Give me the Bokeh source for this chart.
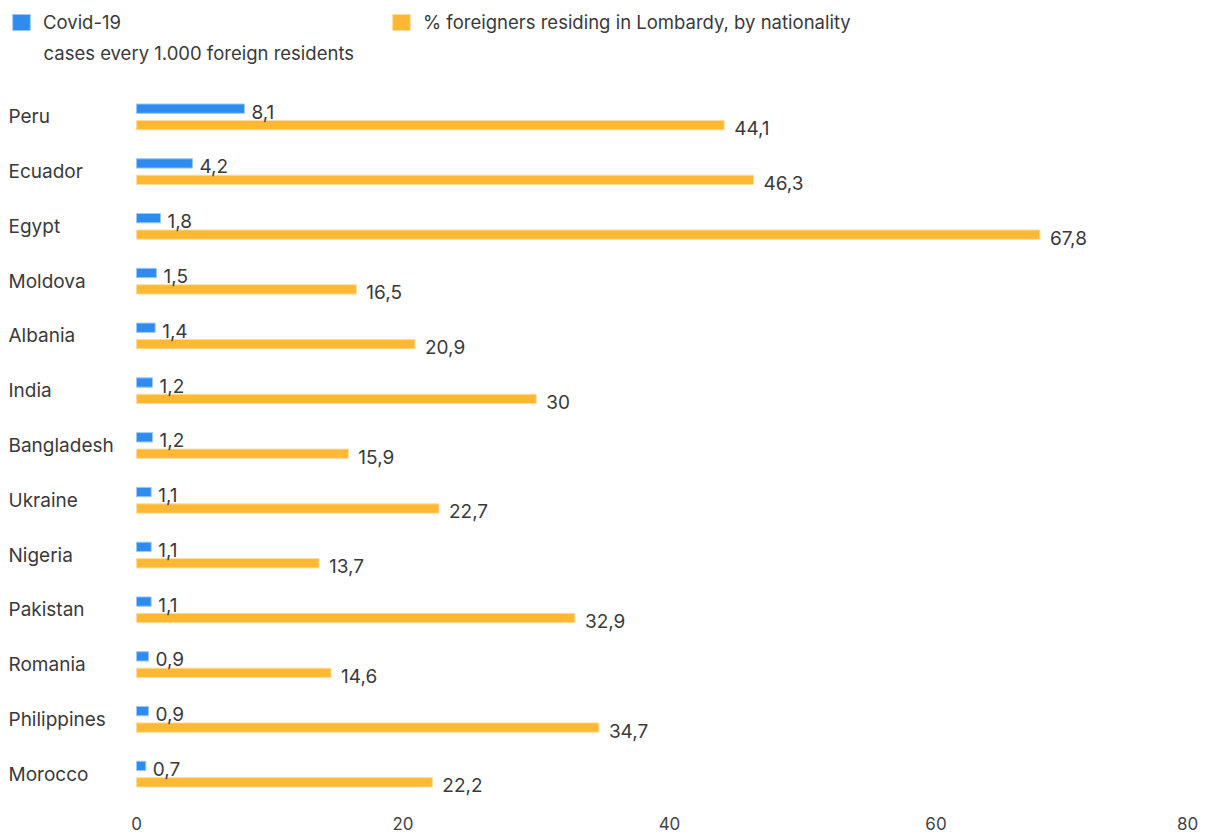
from bokeh.plotting import figure
from bokeh.layouts import column
from bokeh.models import (ColumnDataSource, FactorRange, Range1d, FixedTicker,
                          Legend, LegendItem, Label)
from bokeh.transform import dodge
from bokeh.core.properties import value
from bokeh.embed import file_html
from bokeh.resources import INLINE

countries = ["Peru", "Ecuador", "Egypt", "Moldova", "Albania", "India", "Bangladesh",
             "Ukraine", "Nigeria", "Pakistan", "Romania", "Philippines", "Morocco"]
covid = [8.1, 4.2, 1.8, 1.5, 1.4, 1.2, 1.2, 1.1, 1.1, 1.1, 0.9, 0.9, 0.7]
share = [44.1, 46.3, 67.8, 16.5, 20.9, 30, 15.9, 22.7, 13.7, 32.9, 14.6, 34.7, 22.2]
x_ticks = [0, 20, 40, 60, 80]

covid_name = "Covid-19"
covid_sub = "cases every 1.000 foreign residents"
share_name = "% foreigners residing in Lombardy, by nationality"

BLUE = "#2f8bef"
BLUE_EDGE = "#9cc8f7"
ORANGE = "#ffb833"
ORANGE_EDGE = "#ffdc9a"
TEXT = "#3a3a3a"
FONT = "Inter"

W = 1212
LEG_H = 89
H = 836 - LEG_H
PLOT_LEFT = 136      # pixel where value 0 sits
PLOT_RIGHT = 1202    # pixel where value 80 sits
X_MAX = 80
x_start = -PLOT_LEFT * X_MAX / (PLOT_RIGHT - PLOT_LEFT)


def fmt(v):
    return f"{v:g}".replace(".", ",")


src = ColumnDataSource(dict(
    country=countries,
    covid=covid,
    share=share,
    covid_lbl=[fmt(v) for v in covid],
    share_lbl=[fmt(v) for v in share],
    left_edge=[x_start] * len(countries),
))

y_range = FactorRange(*reversed(countries), range_padding=0)
x_range = Range1d(x_start, X_MAX)

p = figure(width=W, height=H, output_backend="svg", toolbar_location=None,
           y_range=y_range, x_range=x_range,
           min_border_left=0, min_border_right=W - PLOT_RIGHT,
           min_border_top=0, min_border_bottom=35)
p.outline_line_color = None
p.grid.visible = False
p.border_fill_color = "white"

off = 0.15
bar_h = 0.17
p.hbar(y=dodge("country", off, range=y_range), left=0, right="covid",
       height=bar_h, source=src, fill_color=BLUE, line_color=BLUE_EDGE, line_width=1)
p.hbar(y=dodge("country", -off, range=y_range), left=0, right="share",
       height=bar_h, source=src, fill_color=ORANGE, line_color=ORANGE_EDGE, line_width=1)

p.text(x="covid", y=dodge("country", off, range=y_range), text="covid_lbl",
       source=src, x_offset=7, y_offset=3, text_baseline="middle",
       text_font=value(FONT), text_font_size="19px", text_color=TEXT)
p.text(x="share", y=dodge("country", -off, range=y_range), text="share_lbl",
       source=src, x_offset=10, y_offset=3, text_baseline="middle",
       text_font=value(FONT), text_font_size="19px", text_color=TEXT)

# category labels, left aligned near the page edge
p.text(x="left_edge", y="country", text="country", source=src, x_offset=8,
       text_baseline="middle", text_align="left",
       text_font=value(FONT), text_font_size="19px", text_color=TEXT)

p.yaxis.visible = False
xa = p.xaxis[0]
xa.ticker = FixedTicker(ticks=x_ticks)
xa.axis_line_color = None
xa.major_tick_line_color = None
xa.minor_tick_line_color = None
xa.major_tick_out = 0
xa.major_tick_in = 0
xa.minor_tick_out = 0
xa.major_label_standoff = 12
xa.major_label_text_font = FONT
xa.major_label_text_font_size = "17px"
xa.major_label_text_color = "#444444"
xa.major_label_overrides = {80: "80" + "\u00a0" * 3}

# legend strip on top, sharing the data and ranges
lg = figure(width=W, height=LEG_H, output_backend="svg", toolbar_location=None,
            y_range=y_range, x_range=x_range,
            min_border_left=0, min_border_right=0, min_border_top=0,
            min_border_bottom=0)
lg.axis.visible = False
lg.grid.visible = False
lg.outline_line_color = None
lg_covid = lg.hbar(y="country", left=0, right="covid", height=bar_h, source=src,
                   fill_color=BLUE, line_color=BLUE_EDGE, line_width=1, visible=False)
lg_share = lg.hbar(y="country", left=0, right="share", height=bar_h, source=src,
                   fill_color=ORANGE, line_color=ORANGE_EDGE, line_width=1, visible=False)

leg_style = dict(orientation="horizontal", margin=0, padding=0, label_standoff=11,
                 glyph_width=22, glyph_height=20, border_line_color=None,
                 background_fill_alpha=0, label_text_font=FONT,
                 label_text_font_size="18.5px", label_text_color=TEXT,
                 label_height=20)
leg1 = Legend(items=[LegendItem(label=covid_name, renderers=[lg_covid])],
              location=(10, LEG_H - 33), **leg_style)
leg2 = Legend(items=[LegendItem(label=share_name, renderers=[lg_share])],
              location=(390, LEG_H - 33), **leg_style)
lg.add_layout(leg1, "center")
lg.add_layout(leg2, "center")
lg.add_layout(Label(x=43, y=LEG_H - 52, x_units="screen", y_units="screen",
                    text=covid_sub, text_baseline="middle", text_font=FONT,
                    text_font_size="18.5px", text_color=TEXT))

layout = column(lg, p, spacing=0)
open("out.html", "w").write(file_html(layout, INLINE))
